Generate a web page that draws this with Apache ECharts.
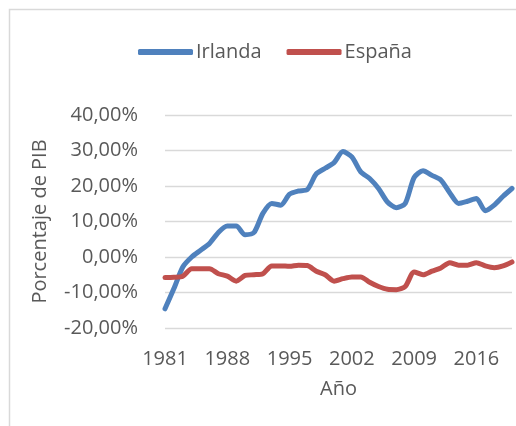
<!DOCTYPE html>
<html>
<head>
<meta charset="utf-8">
<script src="https://cdn.jsdelivr.net/npm/echarts@6/dist/echarts.min.js"></script>
<style>
    html, body { margin: 0; padding: 0; background: #fff; }
    #chart { width: 516px; height: 426px; }
</style>
</head>
<body>
<div id="chart"></div>
<script>
// años 1981-2020
var years = [];
for (var y = 1981; y <= 2020; y++) {
    years.push(String(y));
}

// porcentaje del PIB
var irlanda = [
    -14.6, -8.9, -2.8, 0.0, 1.9, 3.8, 6.9, 8.7, 8.7, 6.3,
    6.9, 12.3, 15.1, 14.6, 17.7, 18.6, 19.0, 23.4, 25.0, 26.6,
    29.7, 28.2, 24.0, 22.1, 19.3, 15.5, 13.9, 15.1, 22.4, 24.3,
    23.0, 21.7, 18.1, 15.1, 15.7, 16.5, 13.0, 14.6, 17.1, 19.3
];
var espana = [
    -5.8, -5.7, -5.4, -3.3, -3.3, -3.3, -4.7, -5.4, -6.8, -5.2,
    -5.0, -4.7, -2.5, -2.5, -2.6, -2.3, -2.4, -4.0, -5.0, -6.8,
    -6.1, -5.6, -5.6, -7.1, -8.3, -9.1, -9.2, -8.3, -4.2, -5.0,
    -4.0, -3.1, -1.6, -2.3, -2.3, -1.6, -2.5, -3.0, -2.5, -1.4
];

var yMin = -20;
var yMax = 40;
var yStep = 10;

var textColor = '#595959';
var font = 'Open Sans';

var chart = echarts.init(document.getElementById('chart'));

chart.setOption({
    backgroundColor: '#fff',
    textStyle: { fontFamily: font },
    graphic: [
        {
            type: 'rect',
            shape: { x: 9.5, y: 9.5, width: 530, height: 440 },
            style: { fill: 'none', stroke: '#d9d9d9', lineWidth: 1.5 },
            silent: true
        }
    ],
    legend: {
        left: 133,
        top: 37,
        itemWidth: 55,
        itemHeight: 6,
        itemGap: 25,
        icon: 'roundRect',
        textStyle: { fontFamily: font, fontSize: 20, color: textColor, padding: [0, 0, 0, -2] },
        data: ['Irlanda', 'España']
    },
    grid: {
        left: 165,
        right: 4,
        top: 115,
        bottom: 98
    },
    xAxis: {
        type: 'category',
        boundaryGap: false,
        data: years,
        name: 'Año',
        nameLocation: 'middle',
        nameGap: 51,
        nameTextStyle: { fontFamily: font, fontSize: 20, color: textColor },
        axisLine: { show: false },
        axisTick: { show: false },
        axisLabel: {
            interval: 6,
            margin: 21,
            fontFamily: font,
            fontSize: 20,
            color: textColor
        },
        splitLine: { show: false }
    },
    yAxis: {
        type: 'value',
        min: yMin,
        max: yMax,
        interval: yStep,
        name: 'Porcentaje de PIB',
        nameLocation: 'middle',
        nameGap: 115,
        nameTextStyle: { fontFamily: font, fontSize: 20, color: textColor },
        axisLine: { show: false },
        axisTick: { show: false },
        axisLabel: {
            margin: 27,
            fontFamily: font,
            fontSize: 20,
            color: textColor,
            formatter: function (v) {
                return v.toFixed(2).replace('.', ',') + '%';
            }
        },
        splitLine: { lineStyle: { color: '#d9d9d9', width: 1.3 } }
    },
    series: [
        {
            name: 'Irlanda',
            type: 'line',
            data: irlanda,
            smooth: 0.25,
            showSymbol: false,
            color: '#4f81bd',
            lineStyle: { width: 5, cap: 'round', join: 'round' }
        },
        {
            name: 'España',
            type: 'line',
            data: espana,
            smooth: 0.25,
            showSymbol: false,
            color: '#c0504d',
            lineStyle: { width: 5, cap: 'round', join: 'round' }
        }
    ]
});
</script>
</body>
</html>
